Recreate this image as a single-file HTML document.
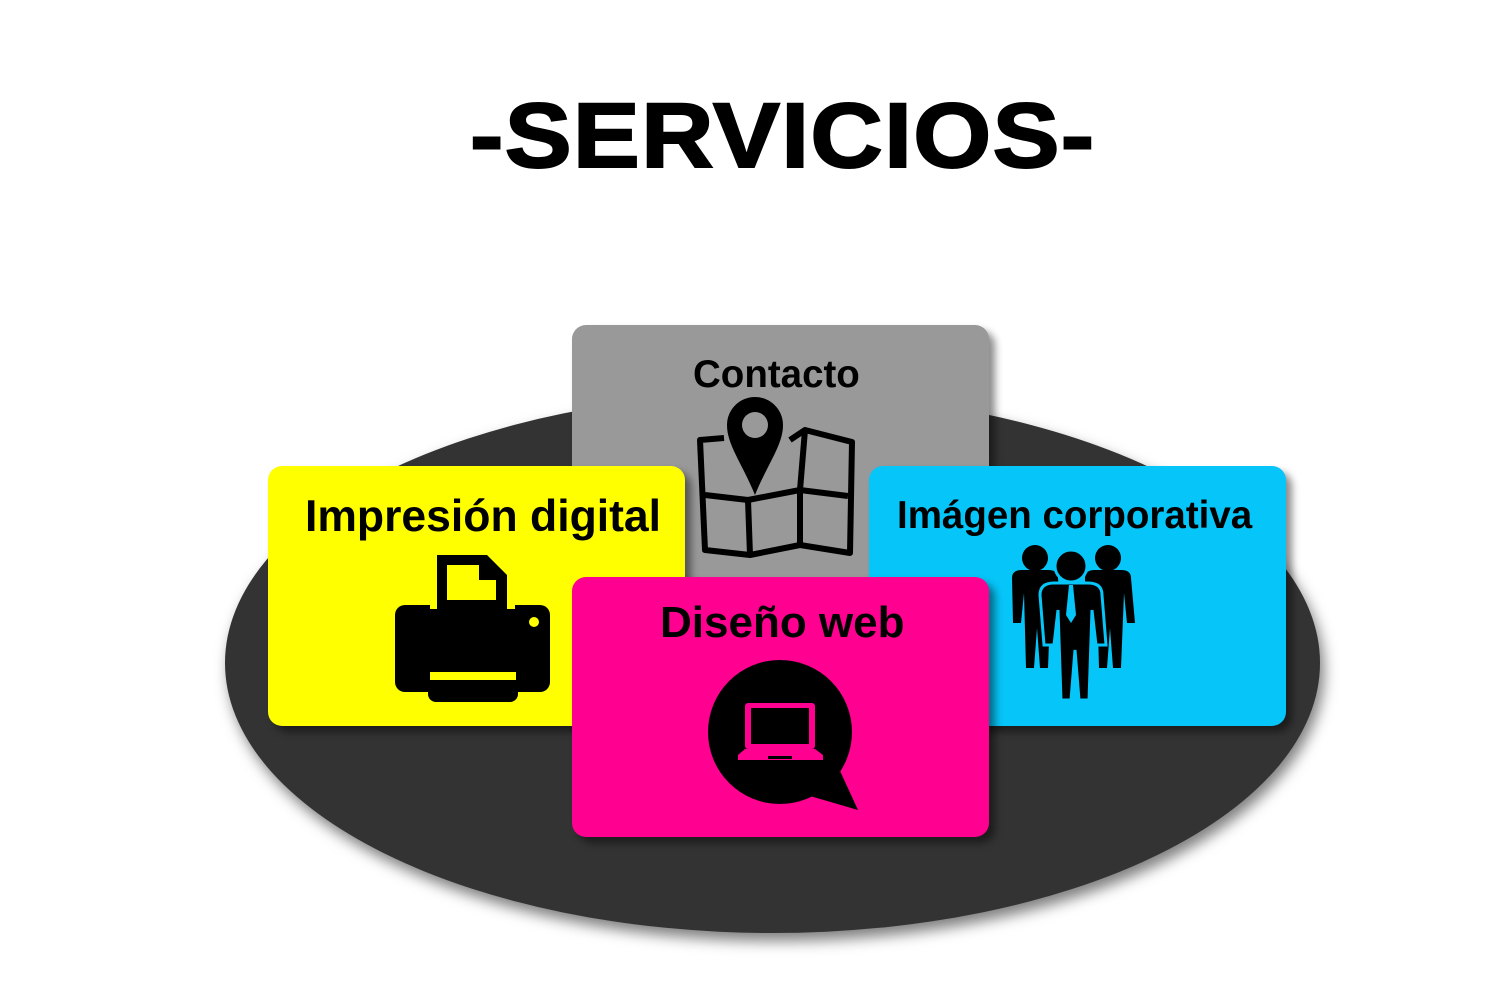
<!DOCTYPE html>
<html><head><meta charset="utf-8"><style>
html,body{margin:0;padding:0;background:#fff;width:1500px;height:1000px;overflow:hidden;position:relative;font-family:"Liberation Sans",sans-serif}
.t{position:absolute;font-weight:bold;color:#000;white-space:nowrap;line-height:1}
.card{position:absolute;border-radius:14px;box-shadow:6px 6px 8px rgba(0,0,0,0.45)}
</style></head><body>
<div class="t" style="left:470px;top:90px;font-size:92px;letter-spacing:1.2px;transform:scaleX(1.09);transform-origin:0 0;-webkit-text-stroke:2px #000">-SERVICIOS-</div>
<div style="position:absolute;left:225px;top:393px;width:1095px;height:540px;border-radius:50%;background:#333;box-shadow:4px 8px 14px rgba(0,0,0,0.5)"></div>
<div class="card" style="left:572px;top:325px;width:417px;height:260px;background:#999"></div>
<div class="card" style="left:268px;top:466px;width:417px;height:260px;background:#ff0"></div>
<div class="card" style="left:869px;top:466px;width:417px;height:260px;background:#06c5f8"></div>
<div class="card" style="left:572px;top:577px;width:417px;height:260px;background:#ff0090"></div>
<div class="t" style="left:693px;top:356px;font-size:38.5px">Contacto</div>
<div class="t" style="left:305px;top:495px;font-size:44.5px">Impresión digital</div>
<div class="t" style="left:897px;top:497px;font-size:38.5px">Imágen corporativa</div>
<div class="t" style="left:660px;top:601px;font-size:44px">Diseño web</div>
<svg width="1500" height="1000" style="position:absolute;left:0;top:0">
<g fill="none" stroke="#000" stroke-width="6" stroke-linejoin="round">
<path d="M724 438 L700 440 L705 550 L750 555 L800 545 L850 553 L852 442 L805 430 L790 440"/>
<path d="M705 495 L748 500 L800 490 L848 496"/>
<path d="M748 500 L750 555 M800 490 L800 545 M800 490 L805 430"/>
</g>
<path d="M755 397 a28 28 0 0 1 28 28 c0 20 -15 38 -28 70 c-13 -32 -28 -50 -28 -70 a28 28 0 0 1 28 -28 z" fill="#000"/>
<circle cx="755" cy="425" r="13" fill="#999"/>
<path d="M437 555 h50 l20 20 v50 h-70 z" fill="#000"/>
<path d="M447 565 h32 l0 15 h17 v35 h-49 z" fill="#ff0"/>
<rect x="395" y="605" width="155" height="87" rx="10" fill="#000"/>
<rect x="430" y="603" width="85" height="6" fill="#ff0"/>
<rect x="437" y="600" width="70" height="20" fill="#000"/>
<rect x="428" y="672" width="90" height="30" rx="8" fill="#000"/>
<rect x="430" y="672" width="86" height="8" fill="#ff0"/>
<rect x="437" y="680" width="72" height="22" rx="6" fill="#000"/>
<circle cx="534" cy="622" r="5" fill="#ff0"/>
<circle cx="780" cy="732" r="72" fill="#000"/>
<path d="M835 760 L858 810 L810 796 z" fill="#000"/>
<rect x="745" y="703" width="70" height="46" rx="3" fill="#ff0090"/>
<rect x="751" y="708" width="58" height="36" fill="#000"/>
<path d="M738 755 L745 749 H815 L823 755 V760 H738 z" fill="#ff0090"/>
<rect x="768" y="756" width="24" height="3" fill="#000"/>
<g fill="#000">
<circle cx="1035" cy="558" r="13"/><circle cx="1108" cy="558" r="13"/>
<path d="M1012 578 q0-8 10-8 h26 q10 0 10 8 l4 45 l-8 0 l-3 -30 l-3 75 h-8 l-3 -40 l-3 40 h-8 l-2 -75 l-3 30 h-8 z"/>
<path d="M1085 578 q0-8 10-8 h26 q10 0 10 8 l4 45 l-8 0 l-3 -30 l-3 75 h-8 l-3 -40 l-3 40 h-8 l-2 -75 l-3 30 h-8 z"/>
<circle cx="1071" cy="566" r="16" stroke="#06c5f8" stroke-width="3"/>
<path d="M1040 595 q0-12 14-12 h34 q14 0 14 12 l4 50 l-10 0 l-4 -35 l-3 90 h-10 l-4 -50 l-4 50 h-10 l-3 -90 l-4 35 h-10 z" stroke="#06c5f8" stroke-width="3"/>
<path d="M1069 585 h4 l3 30 l-5 8 l-5 -8 z" fill="#06c5f8"/>
</g>
</svg>
</body></html>
